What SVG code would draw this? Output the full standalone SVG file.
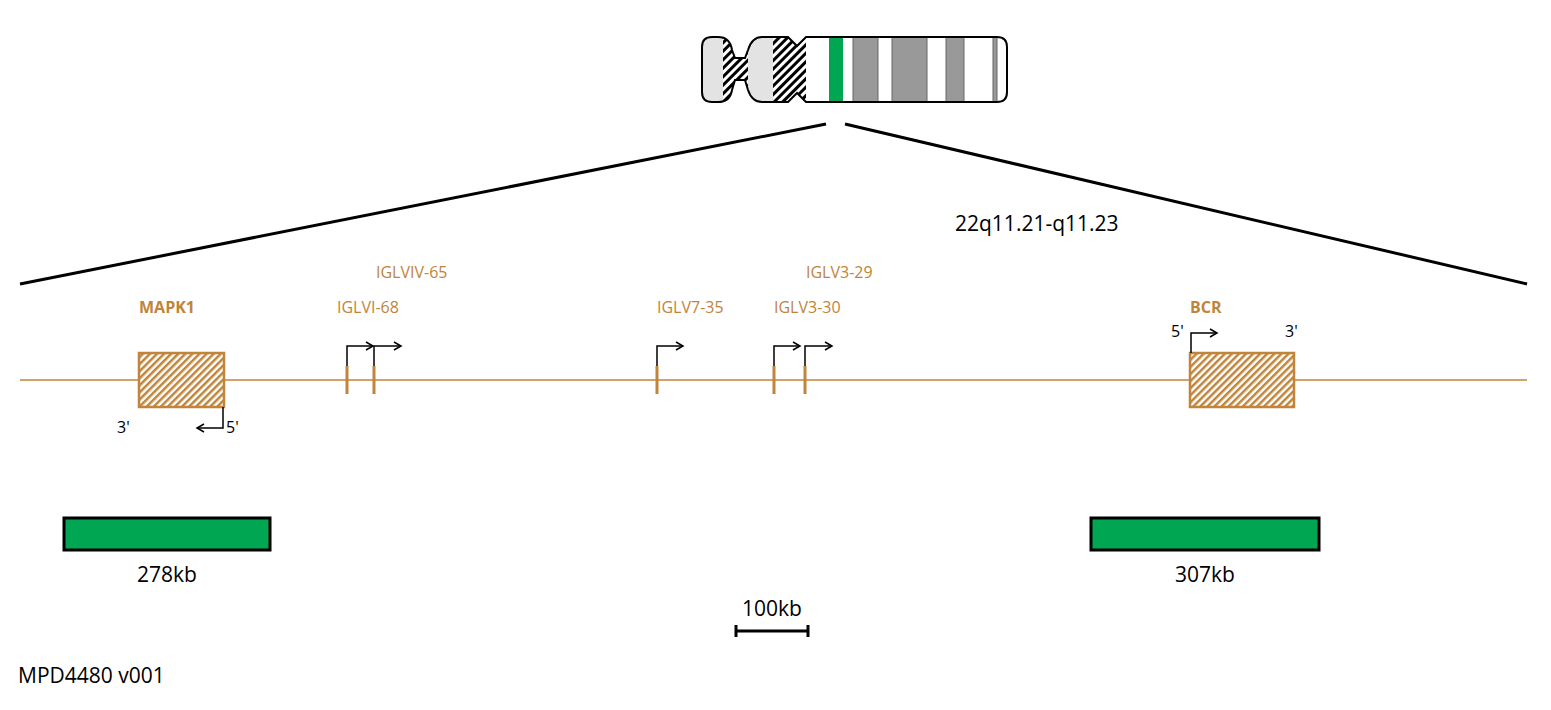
<svg xmlns="http://www.w3.org/2000/svg" width="1551" height="710" viewBox="0 0 1551 710">
<style>
text{font-family:"Open Sans","Noto Sans",sans-serif}
.g{fill:#c0843a;font-size:16px}
.gb{fill:#c0843a;font-size:16px;font-weight:bold}
.k{fill:#000;font-size:16px}
.big{fill:#000;font-size:21px}
.ex{stroke:#c0843a;stroke-width:3}
.arr{fill:none;stroke:#000;stroke-width:1.5}
</style>
<defs>
<pattern id="hb" width="6" height="6" patternUnits="userSpaceOnUse" patternTransform="rotate(45)"><rect width="6" height="6" fill="#fff"/><rect width="3" height="6" fill="#000"/></pattern>
<pattern id="ho" width="5" height="5" patternUnits="userSpaceOnUse" patternTransform="rotate(45)"><rect width="5" height="5" fill="#fff"/><rect width="2.5" height="5" fill="#c0843a"/></pattern>
<clipPath id="cc"><path id="chrp" d="M712,37 H718 Q730,37 732,50 L735,58 H745 L748,50 Q752,37 762,37 H788 L797,46 L806,37 H997 Q1007,37 1007,47 V92 Q1007,102 997,102 H806 L797,93 L788,102 H762 Q752,102 748,90 L745,80 H735 L732,90 Q730,102 718,102 H712 Q702,102 702,92 V47 Q702,37 712,37 Z"/></clipPath>
<marker id="ah" markerWidth="10" markerHeight="10" refX="8" refY="5" orient="auto" markerUnits="userSpaceOnUse"><path d="M1,1 L8,5 L1,9" fill="none" stroke="#000" stroke-width="1.5"/></marker>
</defs>
<rect width="1551" height="710" fill="#fff"/>
<g id="chromosome">
<g clip-path="url(#cc)">
<rect x="700" y="35" width="310" height="70" fill="#fff"/>
<rect x="700" y="35" width="23" height="70" fill="#e3e3e3"/>
<rect x="723" y="35" width="25" height="70" fill="url(#hb)"/>
<rect x="748" y="35" width="25" height="70" fill="#e3e3e3"/>
<rect x="773" y="35" width="33" height="70" fill="url(#hb)"/>
<rect x="829" y="35" width="14" height="70" fill="#00a651"/>
<rect x="853" y="35" width="25" height="70" fill="#999" stroke="#666"/>
<rect x="892" y="35" width="35" height="70" fill="#999" stroke="#666"/>
<rect x="946" y="35" width="18" height="70" fill="#999" stroke="#666"/>
<rect x="993" y="35" width="4" height="70" fill="#999" stroke="#666"/>
</g>
<use href="#chrp" fill="none" stroke="#000" stroke-width="2"/>
</g>
<g id="connectors" stroke="#000" stroke-width="3" fill="none">
<line x1="826" y1="124" x2="20" y2="284"/>
<line x1="845" y1="124" x2="1527" y2="284"/>
</g>
<text x="955" y="231" class="big">22q11.21-q11.23</text>
<line x1="20" y1="380" x2="1527" y2="380" stroke="#c0843a" stroke-width="1.5"/>
<g id="MAPK1">
<rect x="139" y="353" width="85" height="54" fill="url(#ho)" stroke="#c0843a" stroke-width="2.5"/>
<text x="139" y="313" class="gb">MAPK1</text>
<path d="M223,407 V428 H197" class="arr" marker-end="url(#ah)"/>
<text x="117" y="433" class="k">3'</text>
<text x="226" y="433" class="k">5'</text>
</g>
<g id="BCR">
<rect x="1190" y="353" width="104" height="54" fill="url(#ho)" stroke="#c0843a" stroke-width="2.5"/>
<text x="1190" y="313" class="gb">BCR</text>
<path d="M1191,353 V333 H1217" class="arr" marker-end="url(#ah)"/>
<text x="1171" y="337" class="k">5'</text>
<text x="1285" y="337" class="k">3'</text>
</g>
<g id="IGLVI-68"><line x1="347" y1="366" x2="347" y2="394" class="ex"/><path d="M347,366 V346 H373" class="arr" marker-end="url(#ah)"/><text x="337" y="313" class="g">IGLVI-68</text></g>
<g id="IGLVIV-65"><line x1="374" y1="366" x2="374" y2="394" class="ex"/><path d="M374,366 V346 H401" class="arr" marker-end="url(#ah)"/><text x="376" y="278" class="g">IGLVIV-65</text></g>
<g id="IGLV7-35"><line x1="657" y1="366" x2="657" y2="394" class="ex"/><path d="M657,366 V346 H683" class="arr" marker-end="url(#ah)"/><text x="657" y="313" class="g">IGLV7-35</text></g>
<g id="IGLV3-30"><line x1="774" y1="366" x2="774" y2="394" class="ex"/><path d="M774,366 V346 H800" class="arr" marker-end="url(#ah)"/><text x="774" y="313" class="g">IGLV3-30</text></g>
<g id="IGLV3-29"><line x1="805" y1="366" x2="805" y2="394" class="ex"/><path d="M805,366 V346 H832" class="arr" marker-end="url(#ah)"/><text x="806" y="278" class="g">IGLV3-29</text></g>
<g id="clone1"><rect x="64" y="518" width="206" height="32" fill="#00a651" stroke="#000" stroke-width="3"/><text x="167" y="582" class="big" text-anchor="middle">278kb</text></g>
<g id="clone2"><rect x="1091" y="518" width="228" height="32" fill="#00a651" stroke="#000" stroke-width="3"/><text x="1205" y="582" class="big" text-anchor="middle">307kb</text></g>
<g id="scale"><text x="772" y="616" class="big" text-anchor="middle">100kb</text><path d="M736,625 V637 M736,631 H808 M808,625 V637" stroke="#000" stroke-width="3" fill="none"/></g>
<text x="18" y="683" class="big">MPD4480 v001</text>
</svg>
